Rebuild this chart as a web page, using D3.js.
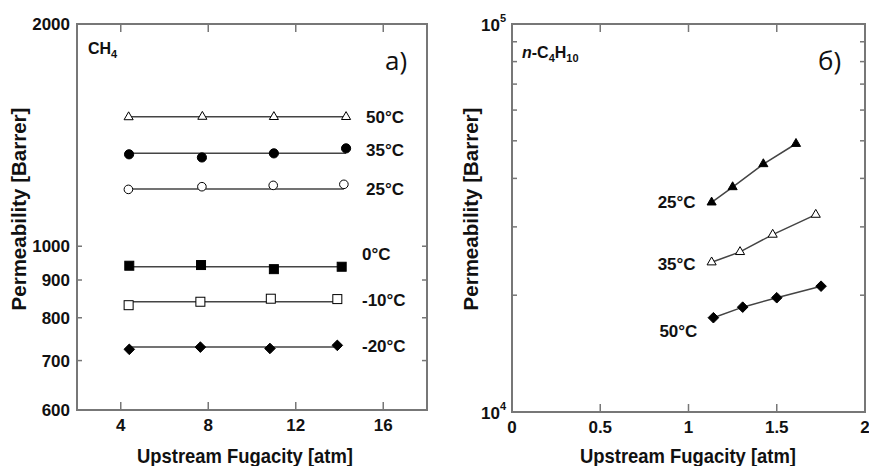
<!DOCTYPE html>
<html>
<head>
<meta charset="utf-8">
<script src="https://cdn.jsdelivr.net/npm/d3@7"></script>
<style>
  body { margin: 0; background: #fff; }
  svg text { font-family: "Liberation Sans", Arial, sans-serif; fill: #111; }
  .tick-label { font-size: 17px; font-weight: bold; }
  .axis-title { font-size: 20.5px; font-weight: bold; }
  .series-label { font-size: 17px; font-weight: bold; }
  .gas { font-size: 16px; font-weight: bold; }
  .panel-tag { font-family: "Open Sans", "Noto Sans", sans-serif !important; font-size: 26px; }
</style>
</head>
<body>
<div id="chart"></div>
<script>
// ---- left panel: CH4 ----
const chLabels = ["50°C", "35°C", "25°C", "0°C", "-10°C", "-20°C"];
const chMarkers = ["triangleOpen", "circleFilled", "circleOpen", "squareFilled", "squareOpen", "diamondFilled"];
const chX = [
  [4.36, 7.73, 11.0, 14.3],
  [4.38, 7.71, 11.0, 14.3],
  [4.35, 7.71, 10.97, 14.2],
  [4.39, 7.67, 11.0, 14.1],
  [4.36, 7.64, 10.86, 13.9],
  [4.39, 7.64, 10.82, 13.9]
];
const chY = [
  [1496, 1498, 1497, 1497],
  [1332, 1319, 1336, 1357],
  [1194, 1204, 1209, 1213],
  [941, 943, 931, 938],
  [832, 841, 849, 848],
  [725, 730, 727, 734]
];
const chFit = [1497, 1336, 1195, 938, 841, 730];
const chXTicks = [4, 8, 12, 16];
const chYLabels = [600, 700, 800, 900, 1000, 2000];
const chYTicks = [700, 800, 900, 1000];

// ---- right panel: n-C4H10 ----
const buLabels = ["25°C", "35°C", "50°C"];
const buMarkers = ["triangleFilled", "triangleOpen", "diamondFilled"];
const buX = [
  [1.131, 1.25, 1.424, 1.609],
  [1.131, 1.292, 1.477, 1.721],
  [1.141, 1.307, 1.5, 1.751]
];
const buY = [
  [34700, 38000, 43560, 49130],
  [24320, 25860, 28660, 32260],
  [17500, 18630, 19700, 21100]
];
const buXTicks = [0, 0.5, 1, 1.5, 2];
const buYMinor = [20000, 30000, 40000, 50000, 60000, 70000, 80000, 90000];

const width = 869, height = 466;
const svg = d3.select("#chart").append("svg")
  .attr("width", width).attr("height", height);

const axisColor = "#777", lineColor = "#444";

// marker shapes
function marker(g, type, cx, cy) {
  const filled = type.endsWith("Filled");
  const fill = filled ? "#000" : "#fff";
  let el;
  if (type.startsWith("triangle")) {
    el = g.append("path").attr("d", d3.symbol(d3.symbolTriangle, 36)())
      .attr("transform", `translate(${cx},${cy})`);
  } else if (type.startsWith("circle")) {
    el = g.append("circle").attr("cx", cx).attr("cy", cy).attr("r", filled ? 4.6 : 4.3);
  } else if (type.startsWith("square")) {
    el = g.append("rect").attr("x", cx - 4.5).attr("y", cy - 4.5).attr("width", 9).attr("height", 9);
  } else {
    const r = 5.3;
    el = g.append("path").attr("d", `M${cx},${cy - r}L${cx + r},${cy}L${cx},${cy + r}L${cx - r},${cy}Z`);
  }
  el.attr("fill", fill).attr("stroke", "#000").attr("stroke-width", 1);
}

function frame(g, x, y) {
  const [x0, x1] = x.range(), [y1, y0] = y.range();
  g.append("rect").attr("x", x0).attr("y", y0)
    .attr("width", x1 - x0).attr("height", y1 - y0)
    .attr("fill", "none").attr("stroke", axisColor).attr("stroke-width", 2);
}

function tickLines(g, values, pos, along, len) {
  // along: "x" -> vertical ticks at top and bottom, "y" -> horizontal ticks at left and right
  values.forEach(v => {
    if (along === "x") {
      const [y1, y0] = pos.other.range();
      const px = pos.scale(v);
      g.append("line").attr("x1", px).attr("x2", px).attr("y1", y0).attr("y2", y0 + len);
      g.append("line").attr("x1", px).attr("x2", px).attr("y1", y1).attr("y2", y1 - len);
    } else {
      const [x0, x1] = pos.other.range();
      const py = pos.scale(v);
      g.append("line").attr("x1", x0).attr("x2", x0 + len).attr("y1", py).attr("y2", py);
      g.append("line").attr("x1", x1).attr("x2", x1 - len).attr("y1", py).attr("y2", py);
    }
  });
  g.selectAll("line").attr("stroke", axisColor).attr("stroke-width", 1.5);
}

// ================= LEFT PANEL =================
const xL = d3.scaleLinear().domain([2, 18]).range([77, 427]);
const yL = d3.scaleLog().domain([600, 2000]).range([410, 24]);

const left = svg.append("g");
frame(left, xL, yL);
tickLines(left.append("g"), chXTicks, { scale: xL, other: yL }, "x", 8);
tickLines(left.append("g"), chYTicks, { scale: yL, other: xL }, "y", 5);

left.append("g").selectAll("text").data(chXTicks).join("text")
  .attr("class", "tick-label").attr("text-anchor", "middle")
  .attr("x", d => xL(d)).attr("y", 431).text(d => d);
left.append("g").selectAll("text").data(chYLabels).join("text")
  .attr("class", "tick-label").attr("text-anchor", "end")
  .attr("x", 70).attr("y", d => yL(d) + 6).text(d => d);

const chLabelDy = [0, -3, 0, -13, -2, -1];
chLabels.forEach((lab, i) => {
  const g = left.append("g");
  const xs = chX[i];
  g.append("line")
    .attr("x1", xL(xs[0])).attr("x2", xL(xs[xs.length - 1]))
    .attr("y1", yL(chFit[i])).attr("y2", yL(chFit[i]))
    .attr("stroke", lineColor).attr("stroke-width", 1.5);
  xs.forEach((xv, j) => marker(g, chMarkers[i], xL(xv), yL(chY[i][j])));
  g.append("text").attr("class", "series-label")
    .attr("x", lab.startsWith("-") || lab.startsWith("0") ? 362 : 366)
    .attr("y", yL(chFit[i]) + chLabelDy[i] + 6).text(lab);
});

const ch = left.append("text").attr("class", "gas").attr("x", 88).attr("y", 54);
ch.append("tspan").text("CH");
ch.append("tspan").attr("font-size", 11).attr("dy", 4).text("4");

left.append("text").attr("class", "panel-tag").attr("x", 385).attr("y", 70).text("a)");

left.append("text").attr("class", "axis-title").attr("text-anchor", "middle")
  .attr("x", 245).attr("y", 463)
  .attr("textLength", 216).attr("lengthAdjust", "spacingAndGlyphs")
  .text("Upstream Fugacity [atm]");
left.append("text").attr("class", "axis-title").attr("text-anchor", "middle")
  .attr("transform", `translate(26,209) rotate(-90)`).text("Permeability [Barrer]");

// ================= RIGHT PANEL =================
const xR = d3.scaleLinear().domain([0, 2]).range([512, 865]);
const yR = d3.scaleLog().domain([1e4, 1e5]).range([412, 24]);

const right = svg.append("g");
frame(right, xR, yR);
tickLines(right.append("g"), [0.5, 1, 1.5], { scale: xR, other: yR }, "x", 8);
tickLines(right.append("g"), buYMinor, { scale: yR, other: xR }, "y", 5);

right.append("g").selectAll("text").data(buXTicks).join("text")
  .attr("class", "tick-label").attr("text-anchor", "middle")
  .attr("x", d => xR(d)).attr("y", 433).text(d => d);

[1e5, 1e4].forEach(v => {
  const t = right.append("text").attr("class", "tick-label").attr("text-anchor", "end")
    .attr("x", 506).attr("y", yR(v) + 7);
  t.append("tspan").text("10");
  t.append("tspan").attr("font-size", 11).attr("dy", -9).text(Math.round(Math.log10(v)));
});

const line = d3.line().x(d => xR(d[0])).y(d => yR(d[1]));
const buLabelDy = [0, 2, 13];
buLabels.forEach((lab, i) => {
  const g = right.append("g");
  const pts = buX[i].map((xv, j) => [xv, buY[i][j]]);
  g.append("path").attr("d", line(pts)).attr("fill", "none")
    .attr("stroke", lineColor).attr("stroke-width", 1.5);
  pts.forEach(p => marker(g, buMarkers[i], xR(p[0]), yR(p[1])));
  g.append("text").attr("class", "series-label").attr("text-anchor", "end")
    .attr("x", xR(pts[0][0]) - 16).attr("y", yR(pts[0][1]) + buLabelDy[i] + 6).text(lab);
});

const bu = right.append("text").attr("class", "gas").attr("x", 522).attr("y", 58);
bu.append("tspan").attr("font-style", "italic").text("n");
bu.append("tspan").text("-C");
bu.append("tspan").attr("font-size", 11).attr("dy", 4).text("4");
bu.append("tspan").attr("dy", -4).text("H");
bu.append("tspan").attr("font-size", 11).attr("dy", 4).text("10");

right.append("text").attr("class", "panel-tag").attr("x", 818).attr("y", 70).text("б)");

right.append("text").attr("class", "axis-title").attr("text-anchor", "middle")
  .attr("x", 688).attr("y", 463)
  .attr("textLength", 216).attr("lengthAdjust", "spacingAndGlyphs")
  .text("Upstream Fugacity [atm]");
right.append("text").attr("class", "axis-title").attr("text-anchor", "middle")
  .attr("transform", `translate(478,209) rotate(-90)`).text("Permeability [Barrer]");
</script>
</body>
</html>
